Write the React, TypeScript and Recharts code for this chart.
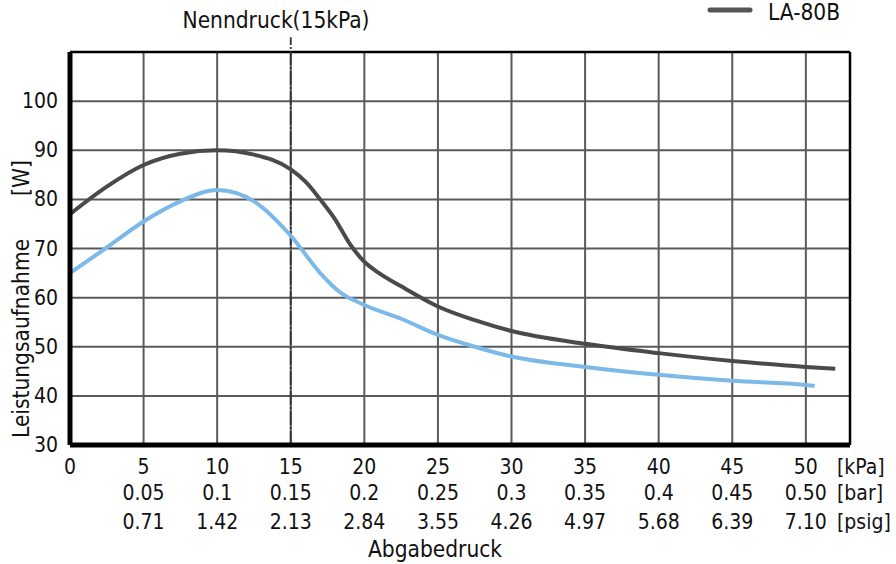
import { LineChart, Line, XAxis, YAxis, CartesianGrid, ReferenceLine } from 'recharts'

// LA-80B (dark) power curve
const darkKpa = [0, 2.5, 5, 7.5, 10, 12.5, 15, 16, 17, 18, 19, 20, 21, 22.5, 25, 27.5, 30, 35, 40, 45, 50, 52]
const darkW = [77.0, 82.6, 87.0, 89.3, 90.0, 89.1, 86.1, 83.6, 80.0, 76.0, 71.0, 67.3, 65.0, 62.3, 58.2, 55.4, 53.2, 50.6, 48.7, 47.1, 45.9, 45.5]

// light blue curve
const blueKpa = [0, 2.5, 5, 7.5, 10, 12.5, 15, 17, 18.3, 20, 22.5, 25, 27.5, 30, 35, 40, 45, 50, 50.6]
const blueW = [65.0, 70.2, 75.5, 79.6, 81.9, 79.6, 72.6, 65.0, 61.2, 58.5, 55.7, 52.4, 50.0, 48.0, 45.9, 44.3, 43.1, 42.2, 42.0]

const kpaTicks = [0, 5, 10, 15, 20, 25, 30, 35, 40, 45, 50]
const barLabels = ['', '0.05', '0.1', '0.15', '0.2', '0.25', '0.3', '0.35', '0.4', '0.45', '0.50']
const psigLabels = ['', '0.71', '1.42', '2.13', '2.84', '3.55', '4.26', '4.97', '5.68', '6.39', '7.10']
const wTicks = [30, 40, 50, 60, 70, 80, 90, 100, 110]

const darkData = darkKpa.map((k, i) => ({ kpa: k, w: darkW[i] }))
const blueData = blueKpa.map((k, i) => ({ kpa: k, w: blueW[i] }))

const FONT = '"DejaVu Sans Condensed", "Liberation Sans Narrow", "DejaVu Sans", sans-serif'
const DARK = '#4a4a4a'
const BLUE = '#7cb9e8'

function KpaTick(props: any) {
  const { x, payload } = props
  const i = kpaTicks.indexOf(payload.value)
  return (
    <g fontFamily={FONT} fontSize={21} fill="#111" textAnchor="middle">
      <text x={x} y={474} fill="#111">{payload.value}</text>
      <text x={x} y={500} fill="#111">{barLabels[i]}</text>
      <text x={x} y={529} fill="#111">{psigLabels[i]}</text>
    </g>
  )
}

function WTick(props: any) {
  const { x, y, payload } = props
  if (payload.value === 110) return <g />
  return (
    <text x={x} y={y + 7} textAnchor="end" fontFamily={FONT} fontSize={21} fill="#111">
      {payload.value}
    </text>
  )
}

export default function App() {
  return (
    <div style={{ position: 'absolute', left: 0, top: 0, width: 896, height: 564, background: '#fff' }}>
      <LineChart width={896} height={564} margin={{ top: 52, right: 46, bottom: 89, left: 0 }}>
        <CartesianGrid stroke="#5a5a5a" strokeWidth={2} />
        <XAxis
          type="number"
          dataKey="kpa"
          domain={[0, 53]}
          ticks={kpaTicks}
          interval={0}
          height={30}
          tickLine={false}
          axisLine={{ stroke: '#000', strokeWidth: 5 }}
          tick={<KpaTick />}
        />
        <YAxis
          type="number"
          dataKey="w"
          domain={[30, 110]}
          ticks={wTicks}
          interval={0}
          width={70}
          tickLine={false}
          tickMargin={6}
          axisLine={{ stroke: '#000', strokeWidth: 5 }}
          tick={<WTick />}
        />
        <ReferenceLine y={110} stroke="#000" strokeWidth={2.5} />
        <ReferenceLine x={53} stroke="#000" strokeWidth={2.5} />
        <ReferenceLine
          segment={[{ x: 15, y: 30 }, { x: 15, y: 113 }]}
          ifOverflow="visible"
          stroke="#333"
          strokeWidth={1.8}
          strokeDasharray="14 2 2 2"
        />
        <Line data={darkData} dataKey="w" type="monotone" stroke={DARK} strokeWidth={4} dot={false} isAnimationActive={false} />
        <Line data={blueData} dataKey="w" type="monotone" stroke={BLUE} strokeWidth={4} dot={false} isAnimationActive={false} />
      </LineChart>
      <svg width={896} height={564} style={{ position: 'absolute', left: 0, top: 0, pointerEvents: 'none' }}>
        <g fontFamily={FONT} fontSize={22.5} fill="#111">
          <text x={276} y={28} textAnchor="middle">Nenndruck(15kPa)</text>
          <line x1={710} y1={10} x2={750} y2={10} stroke="#555" strokeWidth={5} strokeLinecap="round" />
          <text x={768} y={20}>LA-80B</text>
          <text x={837} y={474} fontSize={21}>[kPa]</text>
          <text x={837} y={500} fontSize={21}>[bar]</text>
          <text x={837} y={529} fontSize={21}>[psig]</text>
          <text x={435} y={557} textAnchor="middle">Abgabedruck</text>
          <text transform="translate(29,438) rotate(-90)">Leistungsaufnahme</text>
          <text transform="translate(29,196) rotate(-90)">[W]</text>
        </g>
      </svg>
    </div>
  )
}
